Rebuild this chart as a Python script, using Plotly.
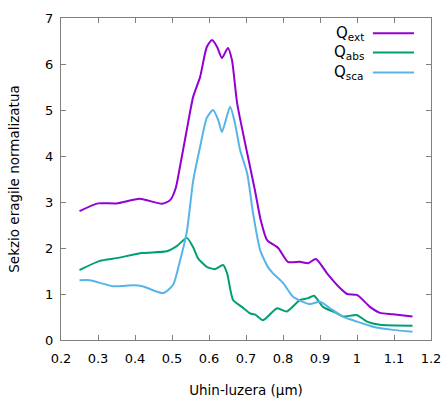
import plotly.graph_objects as go

# Wavelength samples (um) and series values
x_ext = [0.25, 0.30, 0.35, 0.413, 0.473, 0.495, 0.51, 0.52, 0.54, 0.557, 0.576, 0.594, 0.608,
         0.622, 0.635, 0.651, 0.662, 0.676, 0.703, 0.724, 0.74, 0.757, 0.787, 0.813, 0.846,
         0.868, 0.889, 0.919, 0.954, 0.973, 1.0, 1.035, 1.062, 1.097, 1.15]
q_ext = [2.80, 2.97, 2.97, 3.07, 2.96, 3.04, 3.3, 3.7, 4.57, 5.28, 5.72, 6.37, 6.52,
         6.37, 6.13, 6.35, 6.09, 5.15, 4.07, 3.26, 2.6, 2.17, 2.0, 1.70, 1.70,
         1.67, 1.76, 1.45, 1.13, 1.0, 0.98, 0.72, 0.59, 0.56, 0.51]

x_abs = [0.25, 0.305, 0.35, 0.42, 0.486, 0.513, 0.54, 0.557, 0.57, 0.594, 0.616, 0.638,
         0.649, 0.665, 0.689, 0.711, 0.725, 0.746, 0.784, 0.81, 0.846, 0.868, 0.884,
         0.908, 0.946, 0.962, 1.0, 1.027, 1.062, 1.15]
q_abs = [1.52, 1.72, 1.78, 1.89, 1.93, 2.04, 2.22, 2.02, 1.78, 1.59, 1.54, 1.63,
         1.45, 0.87, 0.72, 0.58, 0.55, 0.43, 0.69, 0.62, 0.87, 0.91, 0.96,
         0.72, 0.58, 0.51, 0.54, 0.40, 0.33, 0.31]

x_sca = [0.25, 0.278, 0.34, 0.395, 0.42, 0.476, 0.503, 0.52, 0.54, 0.557, 0.576, 0.594,
         0.611, 0.625, 0.635, 0.657, 0.67, 0.684, 0.703, 0.719, 0.738, 0.759, 0.773,
         0.80, 0.827, 0.854, 0.873, 0.90, 0.927, 0.962, 1.0, 1.043, 1.097, 1.15]
q_sca = [1.30, 1.30, 1.17, 1.19, 1.17, 1.02, 1.20, 1.67, 2.35, 3.45, 4.2, 4.83,
         5.0, 4.78, 4.52, 5.07, 4.72, 4.13, 3.63, 2.76, 1.96, 1.59, 1.45,
         1.24, 0.94, 0.83, 0.78, 0.83, 0.69, 0.51, 0.40, 0.29, 0.22, 0.18]

x_ticks = [0.2, 0.3, 0.4, 0.5, 0.6, 0.7, 0.8, 0.9, 1.0, 1.1, 1.2]
x_tick_labels = ["0.2", "0.3", "0.4", "0.5", "0.6", "0.7", "0.8", "0.9", "1", "1.1", "1.2"]
y_ticks = [0, 1, 2, 3, 4, 5, 6, 7]

names = ["Q<sub>ext</sub>", "Q<sub>abs</sub>", "Q<sub>sca</sub>"]
colors = ["#9400D3", "#009E73", "#56B4E9"]

fig = go.Figure()
for xs, ys, c in [(x_ext, q_ext, colors[0]), (x_abs, q_abs, colors[1]), (x_sca, q_sca, colors[2])]:
    fig.add_trace(go.Scatter(x=xs, y=ys, mode="lines",
                             line=dict(color=c, width=2, shape="spline", smoothing=0.6),
                             showlegend=False, hoverinfo="skip"))

# gnuplot-style key: text right-aligned, sample line to the right
key_rows = [0.953, 0.893, 0.831]
for name, c, yk in zip(names, colors, key_rows):
    fig.add_annotation(xref="paper", yref="paper", x=0.825, y=yk, text=name,
                       showarrow=False, xanchor="right", yanchor="middle",
                       font=dict(family="DejaVu Sans", size=15, color="black"))
    fig.add_shape(type="line", xref="paper", yref="paper", x0=0.843, x1=0.954,
                  y0=yk, y1=yk, line=dict(color=c, width=2))

axis_common = dict(showgrid=False, zeroline=False, showline=True, linecolor="#808080",
                   linewidth=1, mirror="ticks", ticks="inside", ticklen=5, automargin=False,
                   tickcolor="#808080", tickfont=dict(family="DejaVu Sans", size=13, color="black"))

fig.update_layout(
    width=446, height=399,
    margin=dict(l=61, r=15, t=18, b=59),
    paper_bgcolor="white", plot_bgcolor="white",
    font=dict(family="DejaVu Sans", size=13, color="black"),
    xaxis=dict(range=[0.2, 1.2], tickvals=x_ticks, ticktext=x_tick_labels,
               ticklabelstandoff=6,
               title=dict(text="Uhin-luzera (μm)", font=dict(size=13.5), standoff=20),
               **axis_common),
    yaxis=dict(range=[0, 7], tickvals=y_ticks, ticklabelstandoff=4,
               title=dict(text="Sekzio eragile normalizatua", font=dict(size=13.5), standoff=22),
               **axis_common),
)

fig.write_html("out.html")
